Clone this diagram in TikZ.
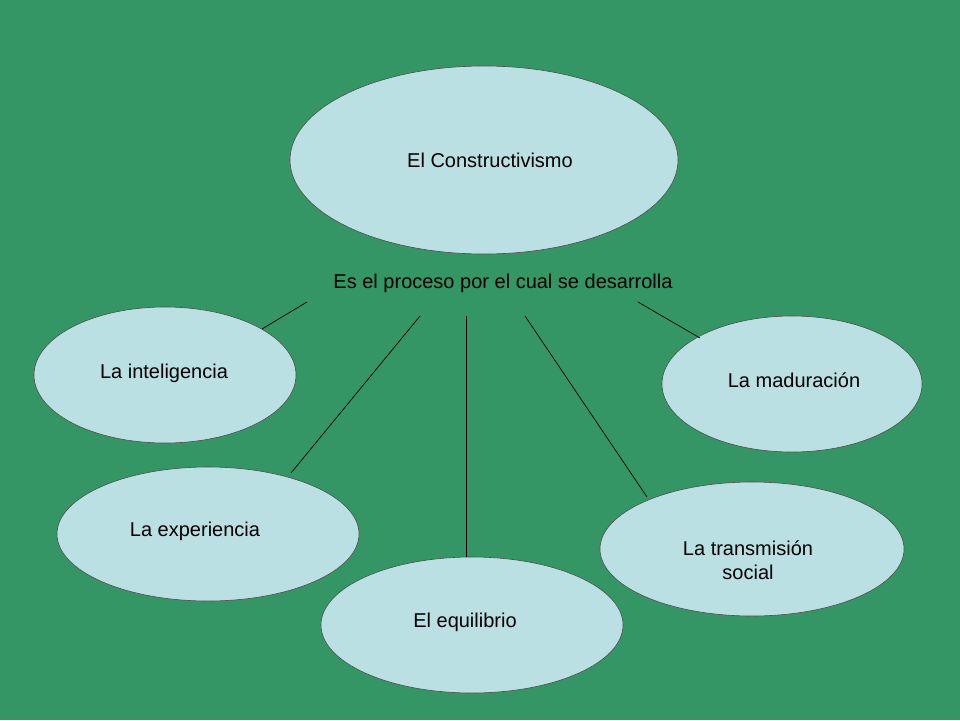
\documentclass[tikz,border=0pt]{standalone}
\usepackage{fontspec}
\setmainfont{Liberation Sans}
\usetikzlibrary{shapes.geometric}
\definecolor{bg}{RGB}{52,150,100}
\definecolor{ell}{RGB}{187,224,227}
\begin{document}
\begin{tikzpicture}[x=1pt,y=-1pt,
  bub/.style={ellipse,draw=black!70,line width=0.6pt,fill=ell,inner sep=0pt},
  lbl/.style={font=\fontsize{20}{24}\selectfont,align=center},
  conn/.style={draw=black,line width=0.7pt}]
\fill[bg] (0,0) rectangle (960,720);
\useasboundingbox (0,0) rectangle (960,720);
\node[bub,minimum width=388,minimum height=188] (c) at (484,160) {};
\node[lbl] at (490,160) {El Constructivismo};
\node[lbl] (p) at (503,283) {Es el proceso por el cual se desarrolla};
\node[bub,minimum width=262,minimum height=136] (i) at (165,375) {};
\node[lbl] at (164,373) {La inteligencia};
\node[bub,minimum width=260,minimum height=136] (m) at (792,384) {};
\node[lbl] at (794,380) {La maduración};
\node[bub,minimum width=302,minimum height=134] (e) at (208,534) {};
\node[lbl] at (195,531) {La experiencia};
\node[bub,minimum width=304,minimum height=134] (t) at (752,549) {};
\node[lbl] at (748,560) {La transmisión\\social};
\node[bub,minimum width=302,minimum height=136] (q) at (472,625) {};
\node[lbl] at (465,622) {El equilibrio};
\coordinate (a1) at (307,302); \coordinate (b1) at (262,329);
\coordinate (a2) at (420,316); \coordinate (b2) at (291,473);
\coordinate (a3) at (466,316); \coordinate (b3) at (466,557);
\coordinate (a4) at (525,316); \coordinate (b4) at (647,497);
\coordinate (a5) at (638,302); \coordinate (b5) at (700,338);
\foreach \k in {1,...,5} \draw[conn] (a\k) -- (b\k);
\end{tikzpicture}
\end{document}
